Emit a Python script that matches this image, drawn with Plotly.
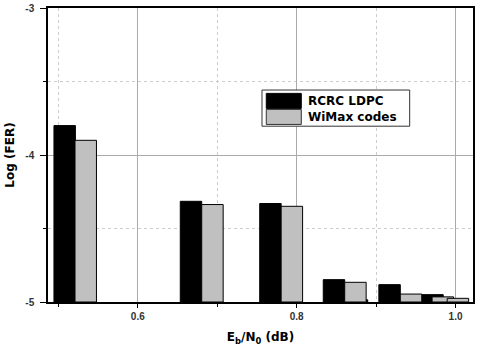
import plotly.graph_objects as go

# bar positions (Eb/N0 in dB) and Log(FER) tops
rcrc_x = [0.508, 0.667, 0.767, 0.847, 0.876, 0.917, 0.971]
rcrc_fer = [-3.80, -4.315, -4.33, -4.848, -4.985, -4.882, -4.95]
wimax_x = [0.5345, 0.694, 0.794, 0.874, 0.944, 0.984, 1.003]
wimax_fer = [-3.90, -4.337, -4.349, -4.866, -4.946, -4.965, -4.975]

floor = -5
bar_w = 0.027
font = 'Liberation Sans'
title_font = 'DejaVu Sans'

fig = go.Figure()
fig.add_trace(go.Bar(
    x=rcrc_x, y=[v - floor for v in rcrc_fer], base=floor,
    width=bar_w, name='RCRC LDPC',
    marker=dict(color='black', line=dict(color='black', width=1)),
))
fig.add_trace(go.Bar(
    x=wimax_x, y=[v - floor for v in wimax_fer], base=floor,
    width=bar_w, name='WiMax codes',
    marker=dict(color='#c0c0c0', line=dict(color='black', width=1)),
))

# hand drawn legend, wide swatches like the original
legend_shapes = [
    dict(type='rect', xref='paper', yref='paper', x0=0.5035, x1=0.851, y0=0.598, y1=0.721,
         line=dict(color='#333', width=1), fillcolor='white', layer='above'),
    dict(type='rect', xref='paper', yref='paper', x0=0.5136, x1=0.596, y0=0.6585, y1=0.7096,
         line=dict(color='black', width=1), fillcolor='black', layer='above'),
    dict(type='rect', xref='paper', yref='paper', x0=0.5136, x1=0.596, y0=0.604, y1=0.655,
         line=dict(color='#333', width=1), fillcolor='#c0c0c0', layer='above'),
]
legend_text = [
    dict(text='RCRC LDPC', x=0.606, y=0.684),
    dict(text='WiMax codes', x=0.606, y=0.630),
]

fig.update_layout(
    width=480, height=349,
    margin=dict(l=48, r=7, t=8, b=47),
    barmode='overlay',
    showlegend=False,
    plot_bgcolor='white', paper_bgcolor='white',
    font=dict(family=font, color='#333', size=10, weight='bold'),
    shapes=legend_shapes,
    annotations=[dict(text=a['text'], x=a['x'], y=a['y'], xref='paper', yref='paper',
                      xanchor='left', yanchor='middle', showarrow=False,
                      font=dict(family=title_font, size=12, color='black', weight='bold'))
                 for a in legend_text],
)
fig.update_xaxes(
    range=[0.487, 1.022], tickvals=[0.6, 0.8, 1.0], ticktext=['0.6', '0.8', '1.0'],
    showgrid=True, gridcolor='#aaa', gridwidth=1,
    minor=dict(tickvals=[0.5, 0.7, 0.9], showgrid=True, gridcolor='#ccc', griddash='dot',
               ticks='outside', ticklen=3, tickcolor='black'),
    ticks='outside', ticklen=4, tickcolor='black',
    showline=True, linecolor='black', linewidth=1.5, mirror=True,
    zeroline=False, automargin=False,
    title=dict(text='E<sub>b</sub>/N<sub>0</sub> (dB)', standoff=12,
               font=dict(family=title_font, size=12, color='black', weight='bold')),
)
fig.update_yaxes(
    range=[-5, -3], tickvals=[-5, -4, -3], ticktext=['-5', '-4', '-3'],
    showgrid=True, gridcolor='#aaa', gridwidth=1,
    minor=dict(tickvals=[-4.5, -3.5], showgrid=True, gridcolor='#ccc', griddash='dot',
               ticks='outside', ticklen=3, tickcolor='black'),
    ticks='outside', ticklen=6, tickcolor='black', ticklabelstandoff=4,
    showline=True, linecolor='black', linewidth=1.5, mirror=True,
    zeroline=False, automargin=False,
    title=dict(text='Log (FER)', standoff=8,
               font=dict(family=title_font, size=12, color='black', weight='bold')),
)

fig.write_html("out.html", config={'displayModeBar': False},
               post_script="document.body.style.margin='0';")
